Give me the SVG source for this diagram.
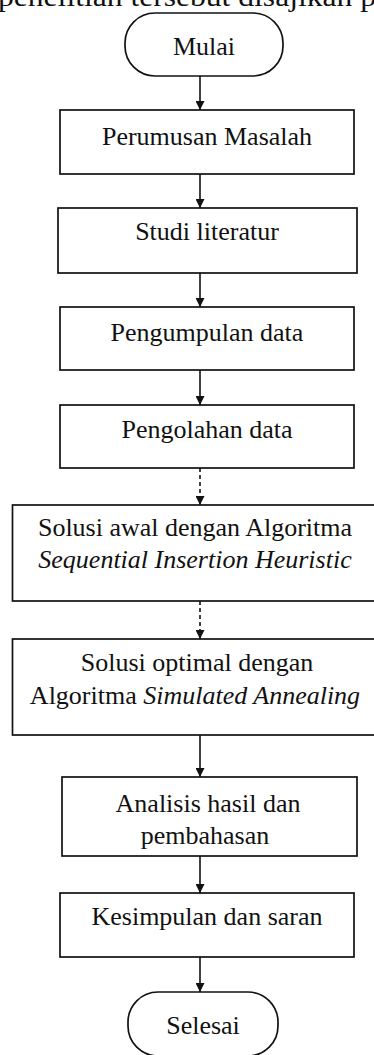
<svg xmlns="http://www.w3.org/2000/svg" width="374" height="1055" viewBox="0 0 374 1055">
<style>
.n{fill:#fff;stroke:#111;stroke-width:1.7}
.t{font-family:"Liberation Serif","Times New Roman",serif;font-size:26px;fill:#111;text-anchor:middle}
.i{font-style:italic}
.c{stroke:#111;stroke-width:1.6;fill:none}
.d{stroke-dasharray:4 3}
</style>
<defs>
<marker id="ah" viewBox="0 0 10 10" refX="10" refY="5" markerWidth="9" markerHeight="9" markerUnits="userSpaceOnUse" orient="auto">
<path d="M0,0 L10,5 L0,10 Z" fill="#111"/>
</marker>
</defs>
<text x="187" y="6" class="t" style="font-size:27px" textLength="378" lengthAdjust="spacingAndGlyphs">penelitian tersebut disajikan p</text>
<g id="connectors">
<line class="c" x1="200" y1="76" x2="200" y2="110" marker-end="url(#ah)"/>
<line class="c" x1="200" y1="174" x2="200" y2="208" marker-end="url(#ah)"/>
<line class="c" x1="200" y1="273" x2="200" y2="307" marker-end="url(#ah)"/>
<line class="c" x1="200" y1="370" x2="200" y2="405" marker-end="url(#ah)"/>
<line class="c d" x1="200" y1="468" x2="200" y2="505" marker-end="url(#ah)"/>
<line class="c d" x1="200" y1="601" x2="200" y2="639" marker-end="url(#ah)"/>
<line class="c" x1="200" y1="735" x2="200" y2="777" marker-end="url(#ah)"/>
<line class="c" x1="200" y1="856" x2="200" y2="893" marker-end="url(#ah)"/>
<line class="c" x1="200" y1="957" x2="200" y2="992" marker-end="url(#ah)"/>
</g>
<g id="mulai">
<rect class="n" x="125" y="13" width="158" height="63" rx="30" ry="30"/>
<text class="t" x="204" y="55">Mulai</text>
</g>
<g id="perumusan">
<rect class="n" x="60" y="110" width="294" height="64"/>
<text class="t" x="207" y="145">Perumusan Masalah</text>
</g>
<g id="studi">
<rect class="n" x="58" y="208" width="299" height="65"/>
<text class="t" x="207" y="240">Studi literatur</text>
</g>
<g id="pengumpulan">
<rect class="n" x="60" y="307" width="294" height="63"/>
<text class="t" x="207" y="341">Pengumpulan data</text>
</g>
<g id="pengolahan">
<rect class="n" x="60" y="405" width="294" height="63"/>
<text class="t" x="207" y="438">Pengolahan data</text>
</g>
<g id="solusi-awal">
<rect class="n" x="12.5" y="505" width="372" height="96"/>
<text class="t" x="195" y="536">Solusi awal dengan Algoritma</text>
<text class="t i" x="195" y="568">Sequential Insertion Heuristic</text>
</g>
<g id="solusi-optimal">
<rect class="n" x="12.5" y="639" width="372" height="96"/>
<text class="t" x="197" y="671">Solusi optimal dengan</text>
<text class="t" x="195" y="704">Algoritma <tspan class="i">Simulated Annealing</tspan></text>
</g>
<g id="analisis">
<rect class="n" x="62" y="777" width="295" height="79"/>
<text class="t" x="208" y="812">Analisis hasil dan</text>
<text class="t" x="205" y="844">pembahasan</text>
</g>
<g id="kesimpulan">
<rect class="n" x="60" y="893" width="294" height="64"/>
<text class="t" x="207" y="925">Kesimpulan dan saran</text>
</g>
<g id="selesai">
<rect class="n" x="128" y="992" width="150" height="64" rx="30" ry="30"/>
<text class="t" x="203" y="1034">Selesai</text>
</g>
</svg>
